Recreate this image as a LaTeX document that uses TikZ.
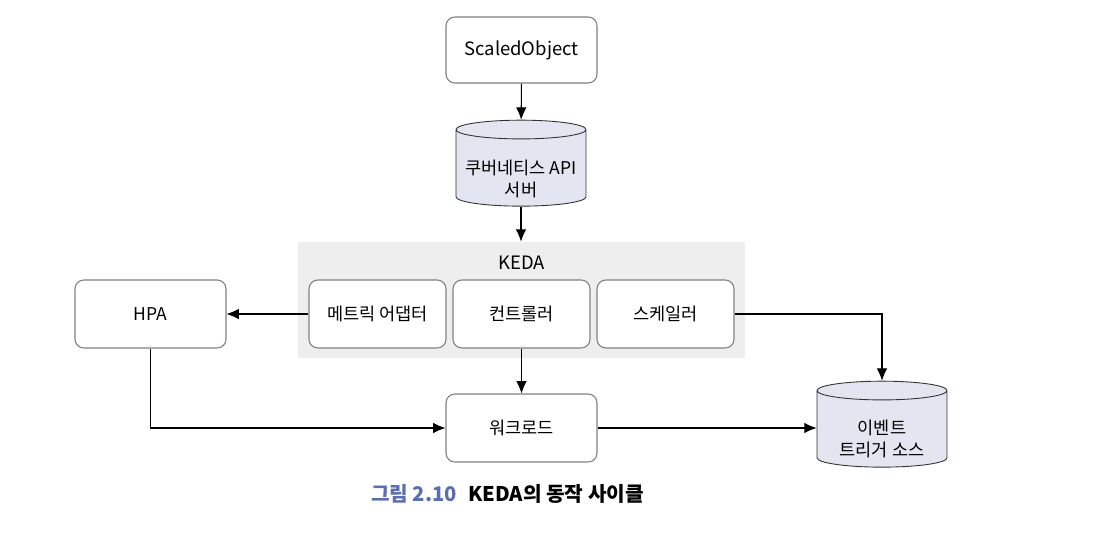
\documentclass[tikz,border=0pt]{standalone}
\usepackage{fontspec}
\setmainfont{Noto Sans CJK KR}
\usetikzlibrary{shapes.geometric,positioning,arrows.meta}

\definecolor{boxline}{HTML}{808080}
\definecolor{cylfill}{HTML}{E3E5F0}
\definecolor{kedabg}{HTML}{EEEEEE}
\definecolor{capblue}{HTML}{5A6EB0}

\tikzset{
    box/.style={draw=boxline, fill=white, rounded corners=5pt, line width=0.6pt,
        minimum width=3.02cm, minimum height=1.36cm, font=\fontsize{10}{12}\selectfont},
    inbox/.style={box, minimum width=2.74cm},
    dbcyl/.style={draw=black!80, fill=cylfill, line width=0.5pt, shape=cylinder,
        shape border rotate=90, aspect=1.6, minimum width=2.6cm, minimum height=1.72cm},
    cyltext/.style={align=center, font=\fontsize{10}{13}\selectfont},
    arr/.style={-{Latex[length=7pt,width=6pt]}, line width=0.6pt}
}

\begin{document}
\begin{tikzpicture}[x=0.02cm, y=-0.02cm]
    \useasboundingbox (0,0) rectangle (1102,548);

    % top of the chain
    \node[box, minimum height=1.32cm, font=\fontsize{10.5}{12}\selectfont] (so) at (521.5,50) {ScaledObject};
    \node[dbcyl] (api) at (521,170) {};
    \node[cyltext] (apitxt) at (521,179) {쿠버네티스 API\\서버};

    % KEDA block
    \node[fill=kedabg, minimum width=8.94cm, minimum height=2.32cm] (keda) at (521.5,300) {};
    \node[font=\fontsize{10.5}{12}\selectfont] (kedalbl) at (521.5,263) {KEDA};
    \node[inbox] (metric) at (377.5,314) {메트릭 어댑터};
    \node[inbox] (ctrl) at (521.5,314) {컨트롤러};
    \node[inbox] (scaler) at (665.5,314) {스케일러};

    \node[box] (hpa) at (150.5,314) {HPA};
    \node[box] (work) at (521.5,428) {워크로드};
    \node[dbcyl] (evt) at (882,431) {};
    \node[cyltext] (evttxt) at (882,439) {이벤트\\트리거 소스};

    % connectors
    \draw[arr] (so) -- (api);
    \draw[arr] (api.south) -- (api.south |- keda.north);
    \draw[arr] (metric) -- (hpa);
    \draw[arr] (hpa.south) |- (work.west);
    \draw[arr] (ctrl) -- (work);
    \draw[arr] (work.east) -- (work.east -| evt.west);
    \draw[arr] (scaler.east) -| (evt.north);

    % caption
    \node[font=\bfseries\fontsize{11.5}{13}\selectfont, text=capblue] (capnum) at (414,494) {그림 2.10};
    \node[font=\bfseries\fontsize{11.5}{13}\selectfont] (captxt) at (556,494) {KEDA의 동작 사이클};
\end{tikzpicture}
\end{document}
